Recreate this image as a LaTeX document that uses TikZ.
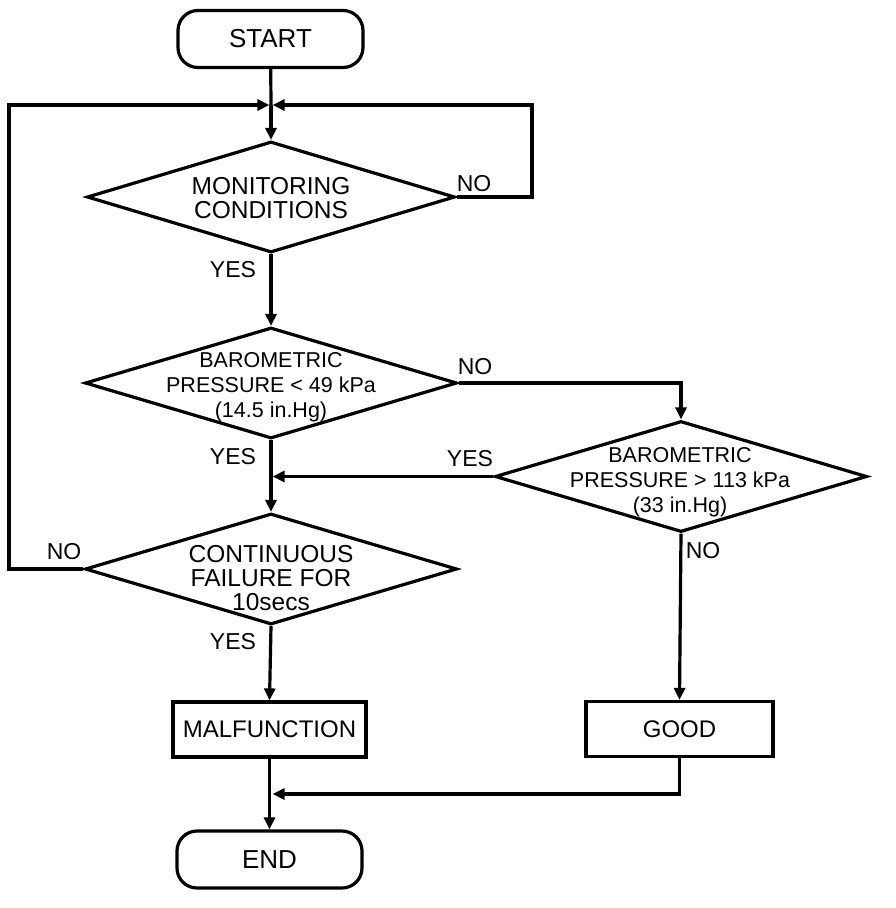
\documentclass[tikz,border=0pt]{standalone}
\usepackage{fontspec}
\setmainfont{Liberation Sans}
\usetikzlibrary{shapes.geometric,arrows.meta}
\begin{document}
\begin{tikzpicture}[x=1pt,y=-1pt,
  every node/.style={inner sep=0pt},
  lw/.style={line width=3.2pt},
  dia/.style={lw,draw,diamond,minimum width=372pt,minimum height=111pt,inner sep=0pt},
  term/.style={lw,draw,rounded corners=20pt,minimum width=185pt,minimum height=57pt,font=\fontsize{26pt}{26pt}\selectfont},
  procbox/.style={lw,draw,minimum height=55pt,font=\fontsize{24pt}{24pt}\selectfont},
  bigtxt/.style={align=center,font=\fontsize{24.5pt}{24pt}\selectfont},
  smalltxt/.style={align=center,font=\fontsize{21.5pt}{25pt}\selectfont},
  lbl/.style={font=\fontsize{23pt}{23pt}\selectfont},
  conn/.style={lw,line join=miter},
  arr/.style={conn,-{Triangle[length=12pt,width=11pt]}}
]
\useasboundingbox (0,0) rectangle (896,908);

\node[term] (start) at (270.5,39) {START};
\node[dia,minimum width=368pt] (d1) at (271,197) {};
\node[bigtxt] (t1) at (271,198) {MONITORING\\CONDITIONS};
\node[dia] (d2) at (271,383) {};
\node[smalltxt] (t2) at (271,387) {BAROMETRIC\\PRESSURE < 49 kPa\\(14.5 in.Hg)};
\node[dia] (d3) at (681,476.5) {};
\node[smalltxt] (t3) at (680,482) {BAROMETRIC\\PRESSURE > 113 kPa\\(33 in.Hg)};
\node[dia] (d4) at (271,569) {};
\node[bigtxt] (t4) at (271,578) {CONTINUOUS\\FAILURE FOR\\10secs};
\node[procbox,minimum width=193pt] (malf) at (269.5,729.5) {MALFUNCTION};
\node[procbox,minimum width=187pt] (good) at (679.5,729) {GOOD};
\node[term] (end) at (269.5,859.5) {END};

\node[lbl] (n1) at (474,184) {NO};
\node[lbl] (y1) at (233,270) {YES};
\node[lbl] (n2) at (475,367) {NO};
\node[lbl] (y2) at (233,457) {YES};
\node[lbl] (y3) at (470,459) {YES};
\node[lbl] (n3) at (703,551) {NO};
\node[lbl] (n4) at (64,552) {NO};
\node[lbl] (y4) at (233,642) {YES};

\coordinate (j1) at (271,105);
\coordinate (rloop) at (532,105);
\coordinate (lloop) at (9,105);
\coordinate (j2) at (271,477);
\coordinate (j3) at (271,794);

\draw[conn] (start) -- (j1);
\draw[arr] (j1) -- (d1.north);
\draw[arr,shorten >=1.6pt] (d1.east) -| (rloop) -- (j1);
\draw[arr,shorten >=1.6pt] (d4.west) -| (lloop) -- (j1);
\draw[arr] (d1.south) -- (d2.north);
\draw[arr] (d2.south) -- (d4.north);
\draw[arr] (d2.east) -| (d3.north);
\draw[arr,shorten >=1.6pt] (d3.west) -- (d3.west -| j2);
\draw[arr] (d3.south) -- (good.north);
\draw[arr] (d4.south) -- (malf.north);
\draw[arr] (malf.south) -- (end.north);
\draw[arr,shorten >=1.6pt] (good.south) |- (j3);
\end{tikzpicture}
\end{document}
